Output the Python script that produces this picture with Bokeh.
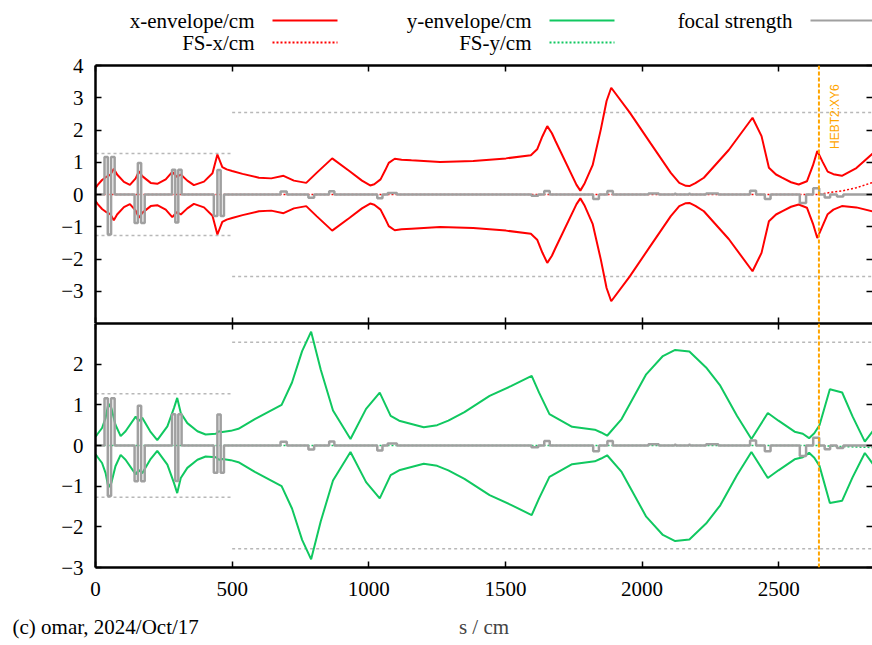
import numpy as np
from bokeh.plotting import figure
from bokeh.models import Range1d, LinearAxis, FixedTicker, Span, Label, Title
from bokeh.layouts import column
from bokeh.embed import file_html
from bokeh.resources import INLINE
from bokeh.core.properties import value

# ---------------- data ----------------
x_env_s = [0, 8, 24, 40, 55, 67, 79, 104, 126, 147, 159, 171, 202, 226, 257, 281, 297, 312,
           336, 360, 397, 428, 446, 464, 480, 500, 538, 598, 643, 688, 726, 771, 809, 866,
           930, 975, 1005, 1020, 1043, 1060, 1073, 1095, 1120, 1156, 1261, 1382, 1502, 1593,
           1616, 1635, 1653, 1670, 1683, 1760, 1774, 1790, 1819, 1849, 1870, 1887, 1955, 2030,
           2105, 2136, 2160, 2173, 2195, 2226, 2317, 2404, 2437, 2464, 2490, 2512, 2545, 2573,
           2603, 2625, 2641, 2660, 2679, 2700, 2731, 2784, 2846]
x_env = [0.20, 0.30, 0.45, 0.55, 0.62, 0.80, 0.62, 0.39, 0.30, 0.50, 0.72, 0.57, 0.36, 0.33,
         0.47, 0.70, 0.55, 0.62, 0.43, 0.29, 0.40, 0.66, 1.24, 0.85, 0.78, 0.73, 0.64, 0.52,
         0.50, 0.58, 0.43, 0.36, 0.67, 1.12, 0.72, 0.43, 0.28, 0.32, 0.47, 0.75, 0.98, 1.11,
         1.08, 1.06, 1.01, 1.04, 1.12, 1.22, 1.40, 1.80, 2.12, 1.90, 1.66, 0.30, 0.12, 0.35,
         0.91, 2.02, 2.90, 3.31, 2.54, 1.60, 0.67, 0.36, 0.27, 0.26, 0.35, 0.52, 1.38, 2.38,
         1.81, 0.83, 0.62, 0.52, 0.38, 0.31, 0.41, 0.90, 1.35, 1.00, 0.66, 0.55, 0.47, 0.61,
         0.91]

y_env_s = [0, 6, 24, 37, 47, 58, 73, 92, 110, 147, 158, 171, 200, 226, 263, 287, 299, 312,
           336, 373, 403, 440, 452, 464, 495, 523, 583, 681, 719, 756, 789, 824, 869, 933,
           990, 1040, 1080, 1111, 1201, 1250, 1291, 1350, 1442, 1520, 1596, 1623, 1661, 1744,
           1827, 1850, 1872, 1925, 2015, 2076, 2121, 2173, 2234, 2286, 2347, 2400, 2460, 2499,
           2558, 2588, 2611, 2630, 2649, 2687, 2732, 2770, 2815, 2846]
y_env = [0.22, 0.27, 0.43, 0.68, 1.03, 0.92, 0.51, 0.23, 0.35, 0.71, 0.60, 0.68, 0.35, 0.13,
         0.47, 0.92, 1.17, 0.80, 0.55, 0.35, 0.27, 0.29, 0.35, 0.33, 0.36, 0.41, 0.65, 1.00,
         1.55, 2.32, 2.80, 1.87, 0.86, 0.16, 0.90, 1.30, 0.73, 0.61, 0.45, 0.50, 0.61, 0.82,
         1.22, 1.46, 1.71, 1.30, 0.77, 0.46, 0.39, 0.32, 0.24, 0.65, 1.75, 2.20, 2.35, 2.31,
         1.92, 1.47, 0.73, 0.16, 0.80, 0.61, 0.34, 0.29, 0.18, 0.30, 0.50, 1.40, 1.33, 0.75,
         0.14, 0.42]

fsx_s = [0, 2647, 2679, 2700, 2731, 2784, 2846]
fsx = [0.0, 0.0, 0.05, 0.08, 0.11, 0.21, 0.38]
fsy_s = [0, 2647, 2700, 2750, 2846]
fsy = [0.0, 0.0, -0.02, -0.03, -0.05]

fs_start = [33, 45, 57, 143, 155, 167, 280, 292, 303, 433, 446, 458, 677, 779, 855, 1031,
            1069, 1595, 1642, 1821, 1873, 2023, 2119, 2171, 2234, 2395, 2449, 2577, 2626,
            2668, 2713]
fs_end = [45, 57, 70, 155, 167, 180, 292, 303, 315, 446, 458, 470, 700, 800, 874, 1050,
          1103, 1620, 1662, 1842, 1893, 2061, 2124, 2176, 2279, 2417, 2470, 2600, 2648,
          2688, 2736]
fs_val = [1.16, -1.24, 1.16, -0.88, 0.98, -0.88, 0.77, -0.87, 0.77, -0.67, 0.76, -0.67,
          0.09, -0.10, 0.10, -0.12, 0.05, -0.04, 0.11, -0.14, 0.11, 0.03, 0.02, 0.02, 0.03,
          0.12, -0.14, -0.26, 0.19, -0.09, -0.06]

ap_start = [0, 500]
ap_end = [500, 2900]
ap_r = [1.27, 2.54]

marker_s = 2647
marker_name = "HEBT2:XY6"

x_ticks = [0, 500, 1000, 1500, 2000, 2500]
top_y_ticks = [-3, -2, -1, 0, 1, 2, 3, 4]
bot_y_ticks = [-3, -2, -1, 0, 1, 2]

legend_labels = ["x-envelope/cm", "y-envelope/cm", "focal strength", "FS-x/cm", "FS-y/cm"]
x_label = "s / cm"
footer = "(c) omar, 2024/Oct/17"

# ---------------- style ----------------
RED = "#ff0000"
GREEN = "#10c860"
GREY = "#a0a0a0"
APER = "#b8b8b8"
ORANGE = "#ffa500"
SERIF = "Liberation Serif"
FS = "21px"
W = 872
LEFT = 95
S_END = 2843

xr = Range1d(0, S_END)


def style_axis(ax, labels, standoff=12):
    ax.axis_line_width = 2.5
    ax.axis_line_color = "black"
    ax.major_tick_in = 6
    ax.major_tick_out = 0
    ax.major_tick_line_width = 1.5
    ax.minor_tick_line_color = None
    if labels:
        ax.major_label_text_font = SERIF
        ax.major_label_text_font_size = FS
        ax.major_label_text_color = "black"
        ax.major_label_standoff = standoff
    else:
        ax.major_label_text_font_size = "0px"
        ax.major_label_text_color = None
        ax.major_label_standoff = 0


def panel(h, y0, y1, yticks, top_border, bottom_border, xlabels):
    p = figure(width=W, height=h, x_range=xr, y_range=Range1d(y0, y1),
               output_backend="svg", toolbar_location=None,
               x_axis_location=None, y_axis_location=None,
               min_border_left=LEFT, min_border_right=0,
               min_border_top=top_border, min_border_bottom=bottom_border)
    p.outline_line_color = None
    p.grid.grid_line_color = None
    left = LinearAxis(ticker=FixedTicker(ticks=yticks))
    style_axis(left, True, 12)
    p.add_layout(left, "left")
    right = LinearAxis(ticker=FixedTicker(ticks=yticks))
    style_axis(right, False)
    right.axis_line_color = None
    p.add_layout(right, "right")
    below = LinearAxis(ticker=FixedTicker(ticks=x_ticks))
    style_axis(below, xlabels, 14)
    p.add_layout(below, "below")
    above = LinearAxis(ticker=FixedTicker(ticks=x_ticks))
    style_axis(above, False)
    p.add_layout(above, "above")
    return p, below


def add_common(p, env_s, env, c_s, c, color):
    for a0, a1, r in zip(ap_start, ap_end, ap_r):
        p.line([a0, a1], [r, r], line_color=APER, line_width=1.5, line_dash="3 3")
        p.line([a0, a1], [-r, -r], line_color=APER, line_width=1.5, line_dash="3 3")
    s = np.array(env_s, dtype=float)
    e = np.array(env, dtype=float)
    cen = np.interp(s, c_s, c)
    p.line(s, cen + e, line_color=color, line_width=2)
    p.line(s, cen - e, line_color=color, line_width=2)
    p.line(c_s, c, line_color=color, line_width=1.5, line_dash="2 2")
    fx, fy = [0.0], [0.0]
    for a0, a1, v in zip(fs_start, fs_end, fs_val):
        fx += [a0, a0, a1, a1]
        fy += [0.0, v, v, 0.0]
    fx.append(S_END + 100)
    fy.append(0.0)
    p.line(fx, fy, line_color=GREY, line_width=2.5)
    p.add_layout(Span(location=marker_s, dimension="height", line_color=ORANGE,
                      line_width=2, line_dash="4 2"))


# legend figure (frame is aligned with the panels' frames: page px LEFT..W)
lg = figure(width=W, height=55, x_range=Range1d(LEFT, W), y_range=Range1d(55, 0),
            output_backend="svg", toolbar_location=None,
            min_border_left=LEFT, min_border_right=0, min_border_top=0, min_border_bottom=0,
            x_axis_location=None, y_axis_location=None)
lg.outline_line_color = None
lg.grid.grid_line_color = None
leg_right = [254, 531, 792, 254, 531]
leg_row = [20, 20, 20, 42, 42]
leg_color = [RED, GREEN, GREY, RED, GREEN]
leg_dash = ["solid", "solid", "solid", "2 2", "2 2"]
lg.text(x=leg_right, y=leg_row, text=legend_labels, text_align="right",
        text_baseline="middle", text_font=value(SERIF), text_font_size=FS,
        text_color="black")
for xr_, yr_, c_, d_ in zip(leg_right, leg_row, leg_color, leg_dash):
    lg.line([xr_ + 18, xr_ + 83], [yr_, yr_], line_color=c_, line_width=2, line_dash=d_)

# top panel
top, _ = panel(268, -4, 4, top_y_ticks, 10, 0, False)
add_common(top, x_env_s, x_env, fsx_s, fsx, RED)
top.add_layout(Label(x=marker_s, y=1.41, x_offset=9, angle=np.pi / 2, text=marker_name,
                     text_font="Liberation Sans", text_font_size="12px",
                     text_color=ORANGE, text_align="left", text_baseline="top"))

# bottom panel
bot, bax = panel(322, -3, 3, bot_y_ticks, 0, 78, True)
bax.axis_label = x_label
bax.axis_label_text_font = SERIF
bax.axis_label_text_font_size = FS
bax.axis_label_text_font_style = "normal"
bax.axis_label_standoff = 16
add_common(bot, y_env_s, y_env, fsy_s, fsy, GREEN)
bot.add_layout(Title(text=footer, align="left", offset=12 - LEFT, standoff=-54,
                     vertical_align="top", text_font=SERIF, text_font_size=FS,
                     text_font_style="normal", text_color="black"), "below")

layout = column(lg, top, bot, spacing=0)
open("out.html", "w").write(file_html(layout, INLINE))
